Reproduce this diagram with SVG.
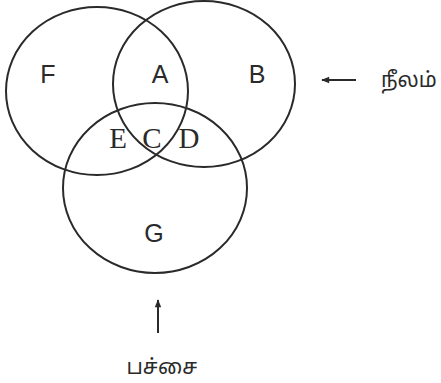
<svg xmlns="http://www.w3.org/2000/svg" width="441" height="383" viewBox="0 0 441 383">
<style>
.c{fill:none;stroke:#2a2a2a;stroke-width:2}
.s{font-family:"Liberation Sans",Arial,sans-serif;font-size:25px;fill:#2a2a2a;text-anchor:middle}
.r{font-family:"Liberation Serif","Times New Roman",serif;font-size:29px;fill:#2a2a2a;text-anchor:middle}
.t{font-family:"Noto Sans Tamil","Noto Sans","Latha",sans-serif;font-size:21px;fill:#2a2a2a}
.a{stroke:#2a2a2a;stroke-width:2;fill:none}
</style>
<defs>
<marker id="ah" viewBox="0 0 10 10" refX="9" refY="5" markerWidth="5" markerHeight="4" orient="auto"><path d="M0,1 L10,5 L0,9 z" fill="#2a2a2a"/></marker>
</defs>
<rect width="441" height="383" fill="#fff"/>
<g id="left"><ellipse class="c" cx="97" cy="91" rx="91" ry="84"/></g>
<g id="right"><ellipse class="c" cx="204" cy="84" rx="91" ry="83"/></g>
<g id="bottom"><ellipse class="c" cx="155" cy="188" rx="92" ry="85"/></g>
<g id="labels">
<text class="s" x="48" y="83">F</text>
<text class="s" x="160" y="83">A</text>
<text class="s" x="257" y="83">B</text>
<text class="r" x="118" y="148">E</text>
<text class="r" x="152" y="148">C</text>
<text class="r" x="189" y="148">D</text>
<text class="s" x="154" y="242">G</text>
</g>
<g id="connectors">
<line class="a" x1="356" y1="80" x2="322" y2="80" marker-end="url(#ah)"/>
<line class="a" x1="158" y1="333" x2="158" y2="300" marker-end="url(#ah)"/>
</g>
<g id="captions">
<text class="t" x="381" y="87">நீலம்</text>
<text class="t" x="162" y="374" text-anchor="middle">பச்சை</text>
</g>
</svg>
